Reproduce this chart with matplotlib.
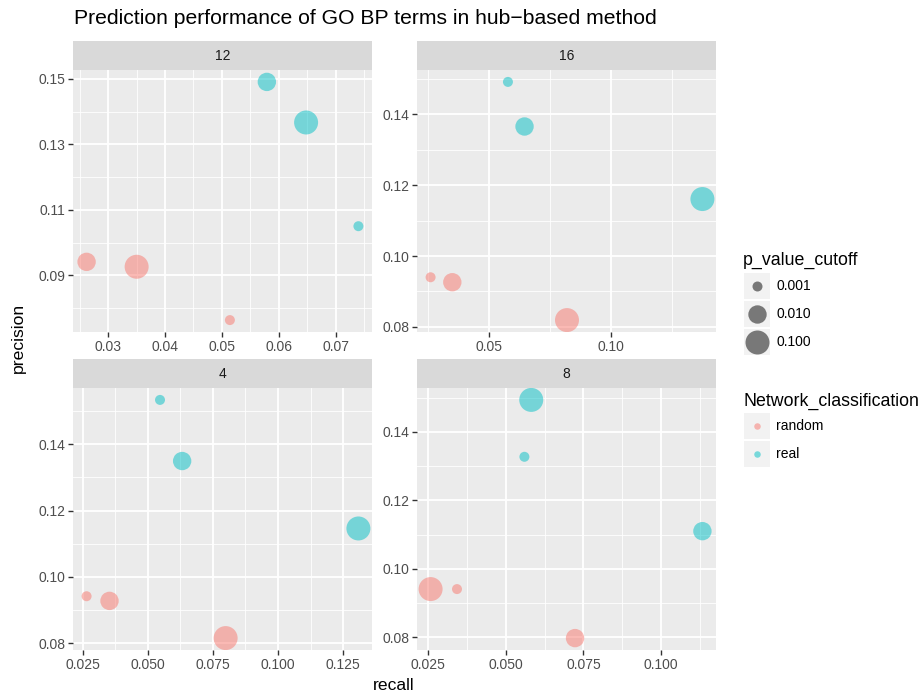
import numpy as np
import matplotlib.pyplot as plt
from matplotlib.ticker import FixedLocator, FormatStrFormatter
from matplotlib.patches import Rectangle

plt.rcParams['font.family'] = ['Liberation Sans', 'DejaVu Sans']

# hub-based prediction results, one set per facet
facets = ['12', '16', '4', '8']
network = ['random', 'random', 'random', 'real', 'real', 'real']

recall_12 = [0.0262, 0.0350, 0.0514, 0.0579, 0.0648, 0.0740]
precision_12 = [0.0941, 0.0926, 0.0763, 0.1491, 0.1367, 0.1050]
pcut_12 = [0.01, 0.1, 0.001, 0.01, 0.1, 0.001]

recall_16 = [0.0260, 0.0349, 0.0819, 0.0577, 0.0645, 0.1374]
precision_16 = [0.0940, 0.0926, 0.0819, 0.1492, 0.1366, 0.1161]
pcut_16 = [0.001, 0.01, 0.1, 0.001, 0.01, 0.1]

recall_4 = [0.0265, 0.0353, 0.0799, 0.0547, 0.0632, 0.1309]
precision_4 = [0.0942, 0.0928, 0.0816, 0.1533, 0.1349, 0.1146]
pcut_4 = [0.001, 0.01, 0.1, 0.001, 0.01, 0.1]

recall_8 = [0.0258, 0.0343, 0.0723, 0.0560, 0.0582, 0.1133]
precision_8 = [0.0941, 0.0941, 0.0798, 0.1327, 0.1493, 0.1110]
pcut_8 = [0.1, 0.001, 0.01, 0.001, 0.1, 0.01]

size_breaks = [0.001, 0.01, 0.1]
class_levels = ['random', 'real']
colors = {'random': '#F8766D', 'real': '#00BFC4'}

data = {
    '12': (recall_12, precision_12, pcut_12),
    '16': (recall_16, precision_16, pcut_16),
    '4': (recall_4, precision_4, pcut_4),
    '8': (recall_8, precision_8, pcut_8),
}

W, H = 921, 692
fig = plt.figure(figsize=(W / 100, H / 100), dpi=100)


def px_rect(x0, y0, x1, y1):
    return [x0 / W, 1 - y1 / H, (x1 - x0) / W, (y1 - y0) / H]


def marker_size(p):
    # area grows linearly with log10(p)
    area_px = 100 + 238 * (np.log10(p) + 3)
    return 0.5184 * area_px


# panel boxes in pixels: (x0, strip_top, panel_top, x1, panel_bottom)
boxes = {
    '12': (73, 41, 70, 372, 332),
    '16': (417, 41, 70, 716, 332),
    '4': (73, 359, 388, 372, 650),
    '8': (417, 359, 388, 716, 650),
}

ticks = {
    '12': (np.arange(0.03, 0.0701, 0.01), '%.2f', np.arange(0.09, 0.1501, 0.02), '%.2f'),
    '16': (np.array([0.05, 0.10]), '%.2f', np.arange(0.08, 0.1401, 0.02), '%.2f'),
    '4': (np.arange(0.025, 0.1251, 0.025), '%.3f', np.arange(0.08, 0.1401, 0.02), '%.2f'),
    '8': (np.arange(0.025, 0.1001, 0.025), '%.3f', np.arange(0.08, 0.1401, 0.02), '%.2f'),
}

for f in facets:
    x0, st, pt, x1, pb = boxes[f]
    rec, prec, pc = data[f]

    strip = fig.add_axes(px_rect(x0, st, x1, pt))
    strip.set_facecolor('#D9D9D9')
    strip.set_xticks([])
    strip.set_yticks([])
    for s in strip.spines.values():
        s.set_visible(False)
    strip.text(0.5, 0.5, f, ha='center', va='center', fontsize=10, color='#1A1A1A',
               transform=strip.transAxes)

    ax = fig.add_axes(px_rect(x0, pt, x1, pb))
    ax.set_facecolor('#EBEBEB')
    for s in ax.spines.values():
        s.set_visible(False)

    for cls in class_levels:
        idx = [i for i, c in enumerate(network) if c == cls]
        ax.scatter([rec[i] for i in idx], [prec[i] for i in idx],
                   s=[marker_size(pc[i]) for i in idx], color=colors[cls],
                   alpha=0.5, linewidths=0, zorder=3)

    xr = max(rec) - min(rec)
    yr = max(prec) - min(prec)
    ax.set_xlim(min(rec) - 0.05 * xr, max(rec) + 0.05 * xr)
    ax.set_ylim(min(prec) - 0.05 * yr, max(prec) + 0.05 * yr)

    xt, xf, yt, yf = ticks[f]
    xstep = xt[1] - xt[0]
    ystep = yt[1] - yt[0]
    ax.xaxis.set_major_locator(FixedLocator(xt))
    ax.yaxis.set_major_locator(FixedLocator(yt))
    ax.xaxis.set_minor_locator(FixedLocator(np.arange(xt[0] - xstep / 2, xt[-1] + xstep, xstep)))
    ax.yaxis.set_minor_locator(FixedLocator(np.arange(yt[0] - ystep / 2, yt[-1] + ystep, ystep)))
    ax.xaxis.set_major_formatter(FormatStrFormatter(xf))
    ax.yaxis.set_major_formatter(FormatStrFormatter(yf))

    ax.grid(which='major', color='white', linewidth=1.3, zorder=0)
    ax.grid(which='minor', color='white', linewidth=0.6, zorder=0)
    ax.set_axisbelow(True)
    ax.tick_params(which='major', length=3.5, width=1, color='#333333',
                   labelcolor='#4D4D4D', labelsize=10, pad=2)
    ax.tick_params(which='minor', length=0)

fig.text(74 / W, 1 - 18.5 / H, 'Prediction performance of GO BP terms in hub\u2212based method',
         fontsize=15.2, ha='left', va='center', color='black')
fig.text(18 / W, 1 - 338 / H, 'precision', rotation=90, fontsize=12.6,
         ha='center', va='center')
fig.text(394 / W, 1 - 685 / H, 'recall', fontsize=12.6, ha='center', va='center')

# legends drawn in pixel space
leg = fig.add_axes([0, 0, 1, 1], facecolor='none')
leg.set_xlim(0, W)
leg.set_ylim(H, 0)
leg.axis('off')

leg.text(743, 260, 'p_value_cutoff', fontsize=12.8, ha='left', va='center')
for i, p in enumerate(size_breaks):
    yc = 285.5 + i * 28
    leg.add_patch(Rectangle((744, yc - 13), 26, 26, facecolor='#F2F2F2', edgecolor='none'))
    leg.scatter([757], [yc], s=marker_size(p), color='black', alpha=0.5, linewidths=0)
    leg.text(776, yc, '%.3f' % p, fontsize=10, ha='left', va='center', color='black')

leg.text(743, 401, 'Network_classification', fontsize=12.8, ha='left', va='center')
for i, cls in enumerate(class_levels):
    yc = 426 + i * 28
    leg.add_patch(Rectangle((744, yc - 13), 26, 26, facecolor='#F2F2F2', edgecolor='none'))
    leg.scatter([757], [yc], s=22, color=colors[cls], alpha=0.5, linewidths=0)
    leg.text(776, yc, cls, fontsize=10, ha='left', va='center', color='black')

fig.savefig('out.png', dpi=100)
